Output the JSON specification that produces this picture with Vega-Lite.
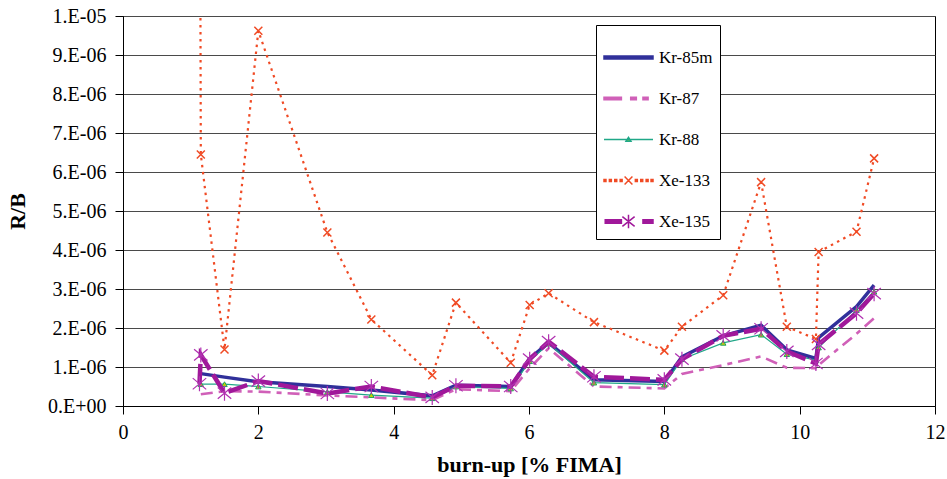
{
  "$schema": "https://vega.github.io/schema/vega-lite/v6.json",
  "width": 812,
  "height": 390,
  "autosize": {"type": "none"},
  "padding": {"left": 123, "top": 16, "right": 12, "bottom": 73},
  "background": "white",
  "config": {
    "view": {"stroke": "black", "strokeWidth": 1},
    "axis": {
      "labelFont": "Liberation Serif",
      "titleFont": "Liberation Serif",
      "labelColor": "black",
      "titleColor": "black",
      "domainColor": "black",
      "tickColor": "black",
      "tickSize": 8,
      "labelFontSize": 20,
      "titleFontSize": 22,
      "titleFontWeight": "bold"
    },
    "legend": {
      "orient": "none",
      "legendX": 473,
      "legendY": 9,
      "strokeColor": "black",
      "fillColor": "white",
      "padding": 7,
      "labelFont": "Liberation Serif",
      "labelFontSize": 17,
      "labelColor": "black",
      "labelOffset": 5,
      "symbolSize": 2401,
      "symbolStrokeWidth": 1.5,
      "rowPadding": 7
    }
  },
  "datasets": {
    "kr85m": [
      {"burnup": 1.15, "rb": 8.3e-7}, {"burnup": 1.5, "rb": 7.4e-7}, {"burnup": 2.0, "rb": 6.2e-7},
      {"burnup": 3.02, "rb": 5.0e-7}, {"burnup": 3.67, "rb": 4.1e-7}, {"burnup": 4.57, "rb": 2.6e-7},
      {"burnup": 4.92, "rb": 5.3e-7}, {"burnup": 5.73, "rb": 5.0e-7}, {"burnup": 6.01, "rb": 1.22e-6},
      {"burnup": 6.29, "rb": 1.62e-6}, {"burnup": 6.96, "rb": 6.7e-7}, {"burnup": 8.0, "rb": 6.3e-7},
      {"burnup": 8.26, "rb": 1.26e-6}, {"burnup": 8.87, "rb": 1.8e-6}, {"burnup": 9.43, "rb": 2.07e-6},
      {"burnup": 9.81, "rb": 1.44e-6}, {"burnup": 10.24, "rb": 1.22e-6}, {"burnup": 10.28, "rb": 1.75e-6},
      {"burnup": 10.84, "rb": 2.55e-6}, {"burnup": 11.1, "rb": 3.1e-6}
    ],
    "kr87": [
      {"burnup": 1.15, "rb": 3.0e-7}, {"burnup": 1.5, "rb": 3.8e-7}, {"burnup": 2.0, "rb": 3.7e-7},
      {"burnup": 3.02, "rb": 2.7e-7}, {"burnup": 3.67, "rb": 2.2e-7}, {"burnup": 4.57, "rb": 1.5e-7},
      {"burnup": 4.92, "rb": 4.3e-7}, {"burnup": 5.73, "rb": 3.8e-7}, {"burnup": 6.01, "rb": 9.7e-7},
      {"burnup": 6.29, "rb": 1.48e-6}, {"burnup": 6.96, "rb": 5.0e-7}, {"burnup": 8.0, "rb": 4.5e-7},
      {"burnup": 8.26, "rb": 8.2e-7}, {"burnup": 8.87, "rb": 1.05e-6}, {"burnup": 9.43, "rb": 1.27e-6},
      {"burnup": 9.81, "rb": 9.8e-7}, {"burnup": 10.24, "rb": 9.7e-7}, {"burnup": 10.28, "rb": 1.05e-6},
      {"burnup": 10.84, "rb": 1.85e-6}, {"burnup": 11.1, "rb": 2.25e-6}
    ],
    "kr88": [
      {"burnup": 1.15, "rb": 5.6e-7}, {"burnup": 1.5, "rb": 5.6e-7}, {"burnup": 2.0, "rb": 5.0e-7},
      {"burnup": 3.02, "rb": 3.6e-7}, {"burnup": 3.67, "rb": 2.8e-7}, {"burnup": 4.57, "rb": 2.0e-7},
      {"burnup": 4.92, "rb": 5.0e-7}, {"burnup": 5.73, "rb": 4.5e-7}, {"burnup": 6.01, "rb": 1.15e-6},
      {"burnup": 6.29, "rb": 1.6e-6}, {"burnup": 6.96, "rb": 6.0e-7}, {"burnup": 8.0, "rb": 5.5e-7},
      {"burnup": 8.26, "rb": 1.2e-6}, {"burnup": 8.87, "rb": 1.62e-6}, {"burnup": 9.43, "rb": 1.83e-6},
      {"burnup": 9.81, "rb": 1.33e-6}, {"burnup": 10.24, "rb": 1.18e-6}, {"burnup": 10.28, "rb": 1.5e-6},
      {"burnup": 10.84, "rb": 2.46e-6}, {"burnup": 11.1, "rb": 2.93e-6}
    ],
    "xe133": [
      {"burnup": 1.14, "rb": 1.3e-5}, {"burnup": 1.15, "rb": 6.45e-6}, {"burnup": 1.5, "rb": 1.45e-6},
      {"burnup": 2.0, "rb": 9.62e-6}, {"burnup": 3.02, "rb": 4.45e-6}, {"burnup": 3.67, "rb": 2.22e-6},
      {"burnup": 4.57, "rb": 7.9e-7}, {"burnup": 4.92, "rb": 2.65e-6}, {"burnup": 5.73, "rb": 1.11e-6},
      {"burnup": 6.01, "rb": 2.59e-6}, {"burnup": 6.29, "rb": 2.89e-6}, {"burnup": 6.96, "rb": 2.15e-6},
      {"burnup": 8.0, "rb": 1.42e-6}, {"burnup": 8.26, "rb": 2.03e-6}, {"burnup": 8.87, "rb": 2.84e-6},
      {"burnup": 9.43, "rb": 5.74e-6}, {"burnup": 9.81, "rb": 2.03e-6}, {"burnup": 10.24, "rb": 1.72e-6},
      {"burnup": 10.28, "rb": 3.95e-6}, {"burnup": 10.84, "rb": 4.47e-6}, {"burnup": 11.1, "rb": 6.35e-6}
    ],
    "xe135": [
      {"burnup": 1.13, "rb": 5.7e-7}, {"burnup": 1.15, "rb": 1.31e-6}, {"burnup": 1.5, "rb": 3.3e-7},
      {"burnup": 2.0, "rb": 6.4e-7}, {"burnup": 3.02, "rb": 3.2e-7}, {"burnup": 3.67, "rb": 5.0e-7},
      {"burnup": 4.57, "rb": 2.2e-7}, {"burnup": 4.92, "rb": 5.2e-7}, {"burnup": 5.73, "rb": 5.0e-7},
      {"burnup": 6.01, "rb": 1.2e-6}, {"burnup": 6.29, "rb": 1.65e-6}, {"burnup": 6.96, "rb": 7.5e-7},
      {"burnup": 8.0, "rb": 6.7e-7}, {"burnup": 8.26, "rb": 1.2e-6}, {"burnup": 8.87, "rb": 1.8e-6},
      {"burnup": 9.43, "rb": 1.98e-6}, {"burnup": 9.81, "rb": 1.4e-6}, {"burnup": 10.24, "rb": 1.09e-6},
      {"burnup": 10.28, "rb": 1.58e-6}, {"burnup": 10.84, "rb": 2.38e-6}, {"burnup": 11.1, "rb": 2.88e-6}
    ],
    "series": [
      {"series": "Kr-85m"}, {"series": "Kr-87"}, {"series": "Kr-88"}, {"series": "Xe-133"}, {"series": "Xe-135"}
    ]
  },
  "encoding": {
    "x": {
      "field": "burnup", "type": "quantitative",
      "scale": {"domain": [0, 12], "nice": false, "zero": false},
      "axis": {"title": "burn-up [% FIMA]", "values": [0, 2, 4, 6, 8, 10, 12], "grid": false, "labelPadding": 8, "titlePadding": 12, "labelFlush": false}
    },
    "y": {
      "field": "rb", "type": "quantitative",
      "scale": {"domain": [0, 0.00001], "nice": false, "zero": true},
      "axis": {
        "title": "R/B",
        "values": [0, 0.000001, 0.000002, 0.000003, 0.000004, 0.000005, 0.000006, 0.000007, 0.000008, 0.000009, 0.00001],
        "grid": true, "gridColor": "#4a4a4a", "gridWidth": 1,
        "labelPadding": 9, "titlePadding": 18, "labelFlush": false,
        "labelExpr": "datum.value == 0 ? '0.E+00' : (round(datum.value * 1e6) >= 10 ? '1.E-05' : round(datum.value * 1e6) + '.E-06')"
      }
    }
  },
  "layer": [
    {"data": {"name": "kr85m"}, "mark": {"type": "line", "color": "#30309a", "strokeWidth": 3.5, "clip": true}},
    {"data": {"name": "kr87"}, "mark": {"type": "line", "color": "#d060b8", "strokeWidth": 2.6, "strokeDash": [12, 6, 5, 6], "clip": true}},
    {"data": {"name": "kr88"}, "mark": {"type": "line", "color": "#20a888", "strokeWidth": 1.2, "clip": true}},
    {"data": {"name": "kr88"}, "mark": {"type": "point", "shape": "triangle-up", "size": 30, "filled": true, "fill": "#c8d400", "stroke": "#20a060", "strokeWidth": 1, "opacity": 1, "clip": true}},
    {"data": {"name": "xe133"}, "mark": {"type": "line", "color": "#f04a24", "strokeWidth": 2.2, "strokeDash": [2.5, 4.5], "clip": true}},
    {"data": {"name": "xe133"}, "mark": {"type": "point", "shape": "M-1,-1L1,1M-1,1L1,-1", "size": 64, "filled": false, "stroke": "#f04a24", "strokeWidth": 1.5, "opacity": 1, "clip": true}},
    {"data": {"name": "xe135"}, "mark": {"type": "line", "color": "#a0189a", "strokeWidth": 4.5, "strokeDash": [20, 6], "clip": true}},
    {"data": {"name": "xe135"}, "mark": {"type": "point", "shape": "M0,-1V1M-0.9,-0.75L0.9,0.75M-0.9,0.75L0.9,-0.75", "size": 225, "filled": false, "stroke": "#b030b0", "strokeWidth": 1.2, "opacity": 1, "clip": true}},
    {
      "data": {"name": "series"},
      "transform": [{"filter": "false"}],
      "mark": {"type": "point", "filled": true, "opacity": 1, "size": 2401, "strokeWidth": 1.5},
      "encoding": {
        "x": {"value": 0},
        "y": {"value": 0},
        "shape": {
          "field": "series", "type": "nominal",
          "scale": {
            "domain": ["Kr-85m", "Kr-87", "Kr-88", "Xe-133", "Xe-135"],
            "range": [
              "M-1,-0.06H1V0.06H-1Z",
              "M-1,-0.05H-0.29V0.05H-1ZM0.09,-0.05H0.32V0.05H0.09ZM0.59,-0.05H0.8V0.05H0.59Z",
              "M-1,0H1M-0.1,0.07L0,-0.09L0.1,0.07Z",
              "M-1,-0.04h0.08v0.08h-0.08zM-0.78,-0.04h0.08v0.08h-0.08zM-0.56,-0.04h0.08v0.08h-0.08zM-0.34,-0.04h0.08v0.08h-0.08zM0.28,-0.04h0.08v0.08h-0.08zM0.5,-0.04h0.08v0.08h-0.08zM0.72,-0.04h0.08v0.08h-0.08zM0.92,-0.04h0.08v0.08h-0.08zM-0.16,-0.16L0.16,0.16M-0.16,0.16L0.16,-0.16",
              "M-0.95,-0.07H-0.29V0.07H-0.95ZM0.59,-0.07H1V0.07H0.59ZM0,-0.28V0.28M-0.25,-0.2L0.25,0.2M-0.25,0.2L0.25,-0.2"
            ]
          },
          "legend": {"title": null}
        },
        "stroke": {
          "field": "series", "type": "nominal",
          "scale": {"domain": ["Kr-85m", "Kr-87", "Kr-88", "Xe-133", "Xe-135"], "range": ["#30309a", "#d060b8", "#20a888", "#f04a24", "#a0189a"]},
          "legend": {"title": null}
        },
        "fill": {
          "field": "series", "type": "nominal",
          "scale": {"domain": ["Kr-85m", "Kr-87", "Kr-88", "Xe-133", "Xe-135"], "range": ["#30309a", "#d060b8", "#c8d400", "#f04a24", "#a0189a"]},
          "legend": {"title": null}
        }
      }
    }
  ]
}
